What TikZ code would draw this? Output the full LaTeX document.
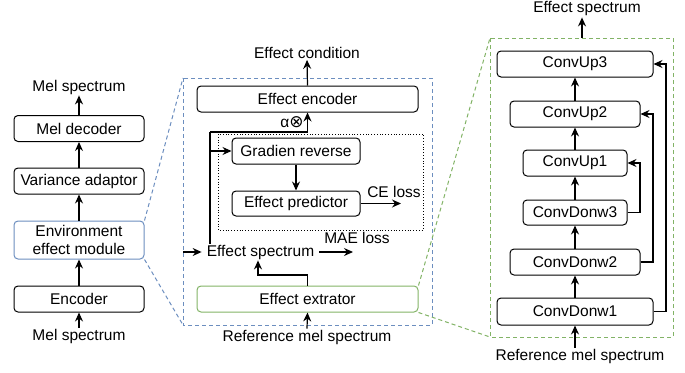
\documentclass[tikz,border=0pt]{standalone}
\usepackage{fontspec}
\setmainfont{Liberation Sans}
\newfontfamily\djv{DejaVu Sans}
\usetikzlibrary{arrows.meta,calc}
\definecolor{bluebd}{HTML}{6C8EBF}
\definecolor{greenbd}{HTML}{82B366}
\newcommand\fs{\fontsize{15.5}{18}\selectfont}
\tikzset{
 box/.style={draw, rounded corners=4pt, line width=1pt, minimum height=26pt, inner sep=2pt, font=\fs, align=center},
 lbl/.style={inner sep=1pt, font=\fs},
 arr/.style={line width=1.2pt, -{Stealth[length=9pt,width=8pt,inset=3pt]}},
 ln/.style={line width=1.2pt},
 bdash/.style={draw=bluebd, line width=1pt, dash pattern=on 4pt off 3pt},
 gdash/.style={draw=greenbd, line width=1pt, dash pattern=on 4pt off 3pt},
}
\begin{document}
\begin{tikzpicture}[x=1pt,y=-1pt]
\useasboundingbox (0,0) rectangle (685,372);
% ---------- left column
\node[lbl] (meltop) at (79,87) {Mel spectrum};
\node[box, minimum width=130pt] (dec) at (79,128.5) {Mel decoder};
\node[box, minimum width=130pt] (var) at (79,181) {Variance adaptor};
\node[box, minimum width=130pt, minimum height=38pt, draw=bluebd] (env) at (79,240) {Environment\\effect module};
\node[box, minimum width=130pt] (enc) at (79,299) {Encoder};
\node[lbl] (melbot) at (79,336) {Mel spectrum};
\draw[arr] (melbot.north) -- (enc.south);
\draw[arr] (enc.north) -- (env.south);
\draw[arr] (env.north) -- (var.south);
\draw[arr] (var.north) -- (dec.south);
\draw[arr] (dec.north) -- (meltop.south);
% ---------- middle
\coordinate (btl) at (183,78);
\coordinate (bbr) at (432,325);
\draw[bdash] (btl) rectangle (bbr);
\draw[bdash] (env.north east) -- (btl);
\draw[bdash] (env.south east) -- (btl |- bbr);
\node[lbl] (econd) at (307,53) {Effect condition};
\node[box, minimum width=221pt] (eenc) at (307.5,99) {Effect encoder};
\draw[arr] (eenc.north) -- (econd.south);
\node[lbl] (alpha) at (292,122) {α{\djv\fontsize{17}{18}\selectfont ⊗}};
\draw[dotted, line width=0.8pt] (218,134) rectangle (423,230);
\node[box, minimum width=128pt] (grev) at (296,151) {Gradien reverse};
\node[box, minimum width=128pt, minimum height=25pt] (epred) at (296,203.5) {Effect predictor};
\draw[arr] (grev.south) -- (epred.north);
\coordinate (ce) at (401,203.5);
\draw[arr] (epred.east) -- (ce);
\node[lbl] (celbl) at (394,192) {CE loss};
\node[lbl, inner xsep=5pt] (espec) at (260.5,252) {Effect spectrum};
\coordinate (lt) at (210,132);
\draw[ln] (espec.north -| lt) -- (lt);
\draw[arr] (lt) -| (eenc.south);
\coordinate (br) at (210,151);
\draw[arr] (br) -- (grev.west);
\coordinate (bl) at (183,252);
\draw[arr] (bl) -- (espec.west);
\coordinate (mae) at (353,252);
\draw[arr] (espec.east) -- (mae);
\node[lbl] (maelbl) at (357,238) {MAE loss};
\node[box, minimum width=221pt, draw=greenbd] (eext) at (307.5,299) {Effect extrator};
\coordinate (ej) at (258,275);
\draw[arr] (eext.north) |- (ej) -- (ej |- espec.south);
\node[lbl] (refmel) at (307,337) {Reference mel spectrum};
\draw[arr] (refmel.north) -- (eext.south);
% ---------- right
\coordinate (gtl) at (490,38);
\coordinate (gbr) at (673,337);
\draw[gdash] (gtl) rectangle (gbr);
\draw[gdash] (eext.north east) -- (gtl);
\draw[gdash] (eext.south east) -- (gtl |- gbr);
\node[lbl] (espec2) at (587,9) {Effect spectrum};
\coordinate (gtop) at (582,38);
\draw[arr] (gtop) -- (gtop |- espec2.south);
\node[box, minimum width=156pt] (cu3) at (575,64) {ConvUp3};
\node[box, minimum width=130pt] (cu2) at (575,114) {ConvUp2};
\node[box, minimum width=104pt] (cu1) at (575,163) {ConvUp1};
\node[box, minimum width=104pt, minimum height=25pt] (cd3) at (575,212.5) {ConvDonw3};
\node[box, minimum width=130pt] (cd2) at (575,262) {ConvDonw2};
\node[box, minimum width=156pt, minimum height=27pt] (cd1) at (575,311.5) {ConvDonw1};
\draw[arr] (cd1.north) -- (cd2.south);
\draw[arr] (cd2.north) -- (cd3.south);
\draw[arr] (cd3.north) -- (cu1.south);
\draw[arr] (cu1.north) -- (cu2.south);
\draw[arr] (cu2.north) -- (cu3.south);
\coordinate (s3) at (640,0);
\coordinate (s2) at (653,0);
\coordinate (s1) at (666,0);
\draw[arr] (cd3.east) -| (s3 |- cu1.east) -- (cu1.east);
\draw[arr] (cd2.east) -| (s2 |- cu2.east) -- (cu2.east);
\draw[arr] (cd1.east) -| (s1 |- cu3.east) -- (cu3.east);
\node[lbl] (refmel2) at (580,356) {Reference mel spectrum};
\draw[arr] (refmel2.north -| cd1.south) -- (cd1.south);
\end{tikzpicture}
\end{document}
